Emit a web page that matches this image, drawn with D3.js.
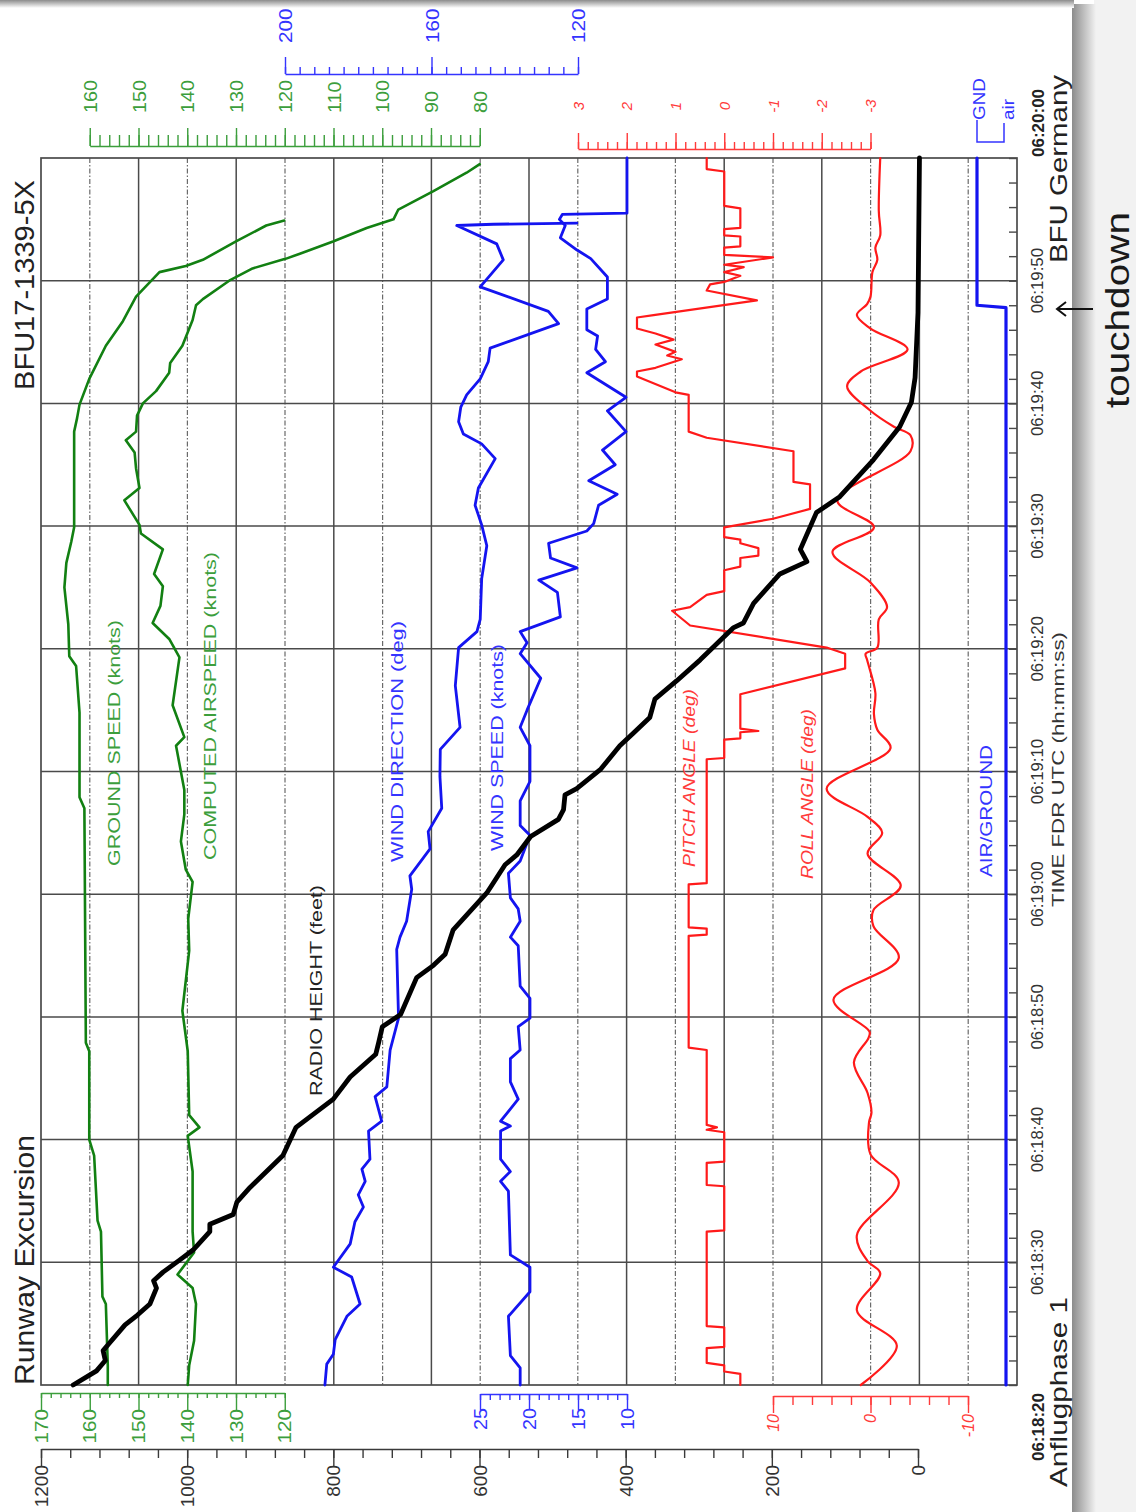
<!DOCTYPE html>
<html><head><meta charset="utf-8">
<script src="https://cdn.jsdelivr.net/npm/d3@7/dist/d3.min.js"></script>
<style>
html,body{margin:0;padding:0;background:#fff;}
svg{display:block;}
text{font-family:Arial,"Liberation Sans",Helvetica,sans-serif;}
</style></head><body>
<svg id="chart" width="1136" height="1512"></svg>
<script>
// ---------------- DATA (seconds after 06:18:20, value) ----------------
const timeTickSeconds = [0,10,20,30,40,50,60,70,80,90,100];
const timeTickLabels = ["06:18:20","06:18:30","06:18:40","06:18:50","06:19:00","06:19:10","06:19:20","06:19:30","06:19:40","06:19:50","06:20:00"];

const groundSpeed = [[0,156.3],[1.6,156.3],[6.6,156.7],[7.2,157.4],[12.5,157.7],[13.4,158.4],[18.7,159.1],[20,160.1],[27.2,160.1],[27.9,160.8],[47,161.1],[47.9,162.1],[54.8,162.1],[58.6,162.8],[59.4,164.2],[62,164.4],[65,165.2],[67,164.8],[68.7,163.8],[69.9,163.2],[77.7,163.2],[78.8,162.6],[79.9,162.1],[82,160.1],[84.7,156.7],[86.7,153.2],[88.7,150.5],[90.7,145.7],[91.2,140.3],[91.7,136.8],[93.2,130],[94.5,123.8],[94.9,120.1]];

const computedAirspeed = [[0,139.9],[1.6,139.6],[3.6,138.6],[6.6,138.2],[7.9,138.9],[9.0,142.0],[10.8,138.6],[12.5,138.9],[17.4,138.9],[20.3,139.9],[21.0,137.5],[22.0,139.6],[27.2,139.9],[30.5,141.0],[35.4,139.6],[38,139.8],[41.0,138.9],[42.0,140.3],[44.3,141.3],[46.5,140.6],[48.5,140.6],[52.1,142.3],[52.8,140.6],[55.4,143.0],[59.3,141.6],[60.8,143.7],[62.1,147.1],[63.5,145.5],[65.1,145.0],[66.1,146.8],[68.1,145.0],[69.4,149.5],[70.1,149.8],[72.1,152.9],[73.1,149.8],[74.7,150.5],[76.0,150.8],[77.0,152.6],[77.7,150.5],[79.0,150.3],[80.0,149.1],[81.0,146.4],[82.5,143.7],[83.3,143.5],[84.7,141.0],[86.8,138.9],[88.0,138.2],[88.5,136.8],[90.0,131.4],[91.0,126.6],[91.8,119.7],[92.2,116.9],[93.2,110.1],[94.3,103.2],[95.0,97.7],[95.8,96.7],[97.3,89.5],[98.8,82.7],[99.5,80.0]];

const radioHeight = [[0,1156],[1.15,1124],[2.0,1112],[2.8,1115],[3.3,1108],[4.9,1085],[5.7,1068],[6.6,1051],[7.9,1042],[8.5,1046],[9.2,1033],[10.2,1010],[11.0,992],[12.5,969],[13.1,969],[13.9,937],[14.9,932],[16.1,914],[18.7,869],[21.0,851],[23.3,800],[25.1,777],[26.95,742],[27.9,738],[29.2,733],[30.2,708],[33.2,686],[34.2,663],[35.1,647],[37.1,636],[40.1,590],[42.4,565],[43.2,549],[44.7,530],[46.1,492],[46.9,485],[48.1,483],[48.6,467],[50.2,434],[52.1,408],[53.1,390],[54.4,367],[55.9,360],[57.4,330],[59.1,298],[61.7,253],[62.1,239],[63.7,225],[66.1,189],[67.1,152],[68.1,161],[71.1,139],[72.4,107],[75.4,61],[78.1,25],[80.1,9],[82.1,4],[87.4,0],[100,-2]];

const windDirection = [[0,189.1],[1.7,188.6],[2.5,186.8],[3.7,186.3],[5.6,183.1],[6.6,179.5],[8.8,181.8],[9.6,186.8],[11.5,182.2],[13.3,180.9],[14.5,178.6],[15.5,180.0],[16.6,178.1],[17.6,179.0],[18.4,176.8],[20.7,177.2],[21.5,173.6],[23.5,175.4],[24.3,172.2],[27.3,171.3],[29.9,169.0],[35.5,169.5],[36.5,168.6],[37.8,166.8],[40.4,165.4],[41.5,165.9],[43.7,160.4],[45.1,160.9],[47.0,157.2],[49.6,157.7],[51.8,157.6],[53.6,152.2],[57,153.5],[60.1,152.6],[61.4,147.6],[62.4,146.7],[65.7,146.3],[68.4,144.9],[70.1,146.3],[71.7,148.1],[73.1,147.2],[75.5,142.6],[76.7,146.3],[77.5,151.3],[78.5,152.6],[79.7,152.0],[80.7,150.4],[82.0,146.7],[83.4,144.5],[84.5,144.0],[86.5,125.3],[87.5,128.1],[89.5,146.7],[91.7,140.4],[93.0,142.2],[94.5,153.1],[94.6,143.1],[94.7,120.3]];

const windSpeed = [[0,20.9],[1.4,20.9],[2.4,21.9],[5.6,22.1],[7.6,19.9],[9.6,19.9],[10.6,21.9],[15.8,22.1],[16.6,22.9],[17.4,21.9],[18.4,22.9],[20.7,22.9],[21.1,21.9],[21.5,22.9],[23.3,21.1],[24.7,21.9],[26.6,21.9],[27.3,20.9],[29.2,21.1],[29.9,19.9],[31.5,19.9],[32.5,20.9],[35.8,21.1],[36.5,21.9],[37.8,20.9],[38.8,21.1],[39.7,21.9],[41.7,22.1],[42.7,20.9],[44.8,19.9],[45.6,20.9],[47.6,20.9],[49.2,19.9],[50.2,19.9],[52.1,19.9],[53.6,20.9],[55,20.2],[57.6,18.8],[59.6,20.9],[60.5,20.2],[61.4,20.9],[62.6,16.8],[64.6,17.1],[65.6,19.0],[66.6,15.1],[67.4,17.8],[68.6,18.0],[69.6,14.1],[70.2,13.4],[71.7,12.9],[72.6,11.0],[73.7,13.9],[75.0,11.2],[76.2,12.5],[77.7,10.1],[79.4,12.0],[80.5,10.1],[82.5,14.1],[83.4,12.2],[84.4,13.2],[85.5,13.0],[86.0,14.1],[87.7,14.1],[88.5,12.0],[90.3,12.0],[91.8,13.7],[92.5,15.1],[93.5,16.8],[94.5,16.3],[95.0,16.9],[95.4,16.6],[95.5,10],[100,10]];

const pitchAngle = [[0,-0.33],[0.9,-0.33],[1.1,0],[1.6,0],[1.8,0.36],[3.0,0.36],[3.1,0],[4.7,0],[4.8,0.36],[12.5,0.36],[12.6,0],[16.2,0],[16.3,0.36],[18.1,0.36],[18.2,0],[20.6,0],[20.8,0.36],[21.0,0.15],[21.2,0.36],[27.3,0.36],[27.5,0.73],[36.6,0.73],[36.7,0.36],[37.2,0.36],[37.3,0.73],[40.8,0.73],[40.9,0.36],[51.0,0.36],[51.1,0],[52.6,0],[52.7,-0.33],[53.2,-0.33],[53.3,-0.7],[53.5,-0.33],[56.3,-0.33],[58.4,-2.48],[59.6,-2.48],[60.1,-2.1],[61.9,0.7],[63.1,1.07],[63.4,0.7],[64.4,0.36],[64.7,0],[66.4,0],[66.7,-0.33],[67.4,-0.33],[67.6,-0.7],[68.2,-0.7],[68.6,-0.33],[68.9,-0.33],[69.1,0],[69.9,0],[70.6,-1.0],[71.4,-1.76],[73.4,-1.76],[73.6,-1.42],[76.1,-1.42],[77.2,0.36],[77.7,0.73],[80.7,0.73],[80.9,1.0],[82.2,1.79],[82.6,1.79],[82.9,1.41],[83.6,0.87],[83.9,1.17],[84.2,1.0],[84.8,1.41],[85.2,1.04],[85.7,1.41],[86.1,1.79],[87.0,1.79],[87.2,1.45],[88.4,-0.67],[89.2,0.36],[89.7,0.29],[89.9,0],[90.4,-0.33],[90.7,0],[91.1,-0.4],[91.3,0],[91.9,-1.0],[92.1,0],[92.7,0],[92.8,-0.33],[93.6,-0.33],[93.7,0],[94.2,0],[94.3,-0.33],[95.9,-0.33],[96.1,0],[98.9,0],[99.1,0.36],[100,0.36]];

const rollAngle = [[0,1.0],[3.2,-2.7],[6.1,1.4],[9.1,-1.0],[10.1,0.3],[12.2,1.4],[16.5,-2.9],[18.8,0],[21.4,0.15],[22.2,-0.1],[23.8,0.3],[26.3,1.7],[28.3,0.2],[28.8,0.1],[31.4,3.8],[34.8,-2.9],[37.4,-0.3],[38.7,-0.3],[40.7,-3.1],[43.3,0.3],[45.0,-1.2],[46.3,0.3],[48.6,4.5],[51.9,-2.05],[53.4,-0.7],[54.7,-0.35],[56.4,-0.5],[59.1,0.35],[59.6,0.5],[60.1,-0.7],[62.4,-0.85],[63.4,-1.7],[65.4,0],[67.9,3.9],[69.9,-0.35],[72.1,3.4],[76.1,-4.1],[77.4,-4.1],[78.1,-2.4],[79.4,0],[81.4,2.4],[82.6,1.0],[84.4,-3.8],[86.1,0],[87.2,1.4],[88.1,0.35],[88.7,0],[90.7,-0.2],[91.7,-0.7],[92.7,-0.5],[93.7,-1.0],[95.7,-0.85],[100,-1.0]];

const airGround = [[0,0],[87.8,0],[88.0,1],[100,1]]; // 0 = air, 1 = GND

const gsTicks = [170,160,150,140,130,120];
const casTicks = [160,150,140,130,120,110,100,90,80];
const wdTicks = [200,160,120];
const wsTicks = [25,20,15,10];
const pitchTicks = [3,2,1,0,-1,-2,-3];
const rollTicks = [10,0,-10];
const rhTicks = [1200,1000,800,600,400,200,0];

// ---------------- SCALES ----------------
const svg = d3.select('#chart');
const tScale = d3.scaleLinear().domain([0,100]).range([1385,158]);
const speedScale = d3.scaleLinear().domain([170,80]).range([41,479.75]);
const wdScale = d3.scaleLinear().domain([200,120]).range([285,578]);
const wsScale = d3.scaleLinear().domain([25,10]).range([480,627]);
const pitchScale = d3.scaleLinear().domain([3,-3]).range([578,870.5]);
const rollScale = d3.scaleLinear().domain([10,-10]).range([773,968]);
const rhScale = d3.scaleLinear().domain([1200,0]).range([41,918]);
const agScale = d3.scaleLinear().domain([0,1]).range([1006,977]);
const gridScale = d3.scaleLinear().domain([0,20]).range([41,1017]);

const GREEN_LINE = '#128012', GREEN_AX = '#3c9e3c';
const BLUE_LINE = '#1414f0', BLUE_AX = '#3434ff';
const RED = '#ff1a1a', RED_AX = '#ff3a3a';
const GRID = '#4a4a4a';

// ---------------- BACKGROUND / PAGE SHADOW ----------------
const defs = svg.append('defs');
const gR = defs.append('linearGradient').attr('id','shR').attr('x1','0').attr('x2','1').attr('y1','0').attr('y2','0');
gR.append('stop').attr('offset','0').attr('stop-color','#8c8c8c');
gR.append('stop').attr('offset','1').attr('stop-color','#f2f2f2');
const gT = defs.append('linearGradient').attr('id','shT').attr('x1','0').attr('x2','0').attr('y1','0').attr('y2','1');
gT.append('stop').attr('offset','0').attr('stop-color','#8c8c8c');
gT.append('stop').attr('offset','1').attr('stop-color','#ffffff');
svg.append('rect').attr('x',0).attr('y',0).attr('width',1136).attr('height',1512).attr('fill','#ffffff');
svg.append('rect').attr('x',1094).attr('y',0).attr('width',42).attr('height',1512).attr('fill','#f2f2f2');
svg.append('rect').attr('x',1072).attr('y',4).attr('width',24).attr('height',1508).attr('fill','url(#shR)');
svg.append('rect').attr('x',0).attr('y',0).attr('width',1074).attr('height',8).attr('fill','url(#shT)');

// ---------------- GRID ----------------
const grid = svg.append('g');
grid.selectAll('line.v').data(d3.range(1,20)).join('line')
  .attr('x1',k=>gridScale(k)).attr('x2',k=>gridScale(k)).attr('y1',158).attr('y2',1385)
  .attr('stroke',k=>k%2?'#6a6a6a':GRID).attr('stroke-width',k=>k%2?1.2:1.5)
  .attr('stroke-dasharray',k=>k%2?'5,2,1.5,2':null);
grid.selectAll('line.h').data(d3.range(10,100,10)).join('line')
  .attr('x1',41).attr('x2',1017).attr('y1',t=>tScale(t)).attr('y2',t=>tScale(t))
  .attr('stroke',GRID).attr('stroke-width',1.5);
svg.append('rect').attr('x',41).attr('y',158).attr('width',976).attr('height',1227)
  .attr('fill','none').attr('stroke',GRID).attr('stroke-width',1.7);
// time ticks on right frame edge
const tAx = svg.append('g').attr('transform','translate(1017,0)').attr('color',GRID)
  .call(d3.axisLeft(tScale).tickValues(d3.range(0,101,2)).tickSize(8).tickSizeOuter(0).tickFormat(''));
tAx.select('.domain').remove();
tAx.selectAll('line').attr('stroke-width',1.4);

// ---------------- TEXT HELPER ----------------
function vtext(x, y, str, o = {}) {
  const t = svg.append('text')
    .attr('transform', `translate(${x},${y}) rotate(-90)` + (o.stretch ? ` scale(${o.stretch},1)` : ''))
    .attr('text-anchor', o.anchor || 'start')
    .attr('font-size', o.size || 16)
    .attr('fill', o.color || '#222')
    .text(str);
  if (o.weight) t.attr('font-weight', o.weight);
  if (o.italic) t.attr('font-style', 'italic');
  if (o.len) t.attr('textLength', o.len).attr('lengthAdjust', 'spacingAndGlyphs');
  if (o.family) t.attr('font-family', o.family);
  return t;
}

// ---------------- AXES ----------------
function hAxis(scale, domain, y, top, minorStep, majorVals, minorLen, majorLen, color) {
  const s = scale.copy().domain(domain).range(domain.map(d => scale(d)));
  const lo = Math.min(...domain), hi = Math.max(...domain);
  const minorVals = d3.range(lo, hi + minorStep / 2, minorStep).map(v => +v.toFixed(4));
  const mk = top ? d3.axisTop : d3.axisBottom;
  const g = svg.append('g').attr('transform', `translate(0,${y})`).attr('color', color);
  g.append('g').call(mk(s).tickValues(minorVals).tickSize(minorLen).tickSizeOuter(0).tickFormat(''));
  const gm = g.append('g').call(mk(s).tickValues(majorVals).tickSize(majorLen).tickFormat(''));
  gm.select('.domain').remove();
  g.selectAll('line,path').attr('stroke-width', 1.4);
  return s;
}
// top axes
hAxis(speedScale, [160,80], 146, true, 2, casTicks, 11, 18, GREEN_AX);
casTicks.forEach(v => vtext(speedScale(v) + 7, 113, String(v), {size:18, color:GREEN_AX, stretch:1.1}));
hAxis(wdScale, [200,120], 74, true, 4, wdTicks, 7, 17, BLUE_AX);
wdTicks.forEach(v => vtext(wdScale(v) + 7, 43, String(v), {size:18, color:BLUE_AX, stretch:1.15}));
hAxis(pitchScale, [3,-3], 149, true, 0.2, pitchTicks, 7, 16, RED_AX);
pitchTicks.forEach(v => vtext(pitchScale(v) + 5.5, 106, String(v), {size:15, color:RED_AX, italic:true, anchor:'middle'}));

// bottom axes
hAxis(speedScale, [170,120], 1393, false, 2, gsTicks, 5, 17, GREEN_AX);
gsTicks.forEach(v => vtext(speedScale(v) + 6.5, 1409, String(v), {size:18, color:GREEN_AX, anchor:'end', stretch:1.15}));
hAxis(wsScale, [25,10], 1394, false, 1, wsTicks, 6, 16, BLUE_AX);
wsTicks.forEach(v => vtext(wsScale(v) + 6.5, 1408, String(v), {size:18, color:BLUE_AX, anchor:'end', stretch:1.1}));
hAxis(rollScale, [10,-10], 1396, false, 2, rollTicks, 9, 17, RED_AX);
rollTicks.forEach(v => vtext(rollScale(v) + 5.5, 1414, String(v), {size:16, color:RED_AX, anchor:'end', italic:true}));
hAxis(rhScale, [1200,0], 1449, false, 40, rhTicks, 9, 18, '#3a3a3a');
rhTicks.forEach(v => vtext(rhScale(v) + 7, 1465, String(v), {size:19, color:'#333', anchor:'end'}));

// air / ground mini legend
svg.append('path').attr('d','M977,120V142H1004V123').attr('fill','none').attr('stroke',BLUE_AX).attr('stroke-width',1.5);
vtext(985, 120, 'GND', {size:16, color:BLUE_AX, len:42});
vtext(1014, 120, 'air', {size:16, color:BLUE_AX, len:21});

// ---------------- SERIES ----------------
function series(data, xs, color, width, curve) {
  svg.append('path').datum(data)
    .attr('fill','none').attr('stroke',color).attr('stroke-width',width)
    .attr('stroke-linejoin','round').attr('stroke-linecap','round')
    .attr('d', d3.line().x(d => xs(d[1])).y(d => tScale(d[0])).curve(curve || d3.curveLinear));
}
series(groundSpeed, speedScale, GREEN_LINE, 2.6);
series(computedAirspeed, speedScale, GREEN_LINE, 2.6);
series(windDirection, wdScale, BLUE_LINE, 2.8);
series(windSpeed, wsScale, BLUE_LINE, 2.8);
series(pitchAngle, pitchScale, RED, 2.2);
series(rollAngle, rollScale, RED, 2.2, d3.curveCatmullRom.alpha(0.5));
series(airGround, agScale, BLUE_LINE, 3.2);
series(radioHeight, rhScale, '#000', 4.8);

// ---------------- SERIES LABELS ----------------
vtext(120, 866, 'GROUND SPEED (knots)', {size:17, color:GREEN_AX, len:246});
vtext(216, 860, 'COMPUTED AIRSPEED (knots)', {size:17, color:GREEN_AX, len:308});
vtext(322, 1096, 'RADIO HEIGHT (feet)', {size:17, color:'#222', len:211});
vtext(403, 862, 'WIND DIRECTION  (deg)', {size:17, color:BLUE_AX, len:241});
vtext(503, 851, 'WIND SPEED (knots)', {size:17, color:BLUE_AX, len:207});
vtext(695, 867, 'PITCH ANGLE (deg)', {size:16, color:RED_AX, italic:true, len:178});
vtext(813, 879, 'ROLL ANGLE (deg)', {size:16, color:RED_AX, italic:true, len:170});
vtext(992, 877, 'AIR/GROUND', {size:17, color:BLUE_AX, len:132});

// ---------------- TITLES & TIME AXIS TEXT ----------------
vtext(34, 1385, 'Runway Excursion', {size:27, color:'#222', len:250});
vtext(34, 390, 'BFU17-1339-5X', {size:27, color:'#222', len:210});
timeTickSeconds.forEach((s, i) => {
  if (i === 0) vtext(1044, 1393, timeTickLabels[i], {size:17, weight:'bold', anchor:'end', color:'#222'});
  else if (i === timeTickSeconds.length - 1) vtext(1044, 157, timeTickLabels[i], {size:17, weight:'bold', color:'#222'});
  else vtext(1043, tScale(s), timeTickLabels[i], {size:16, anchor:'middle', color:'#333', stretch:1.05});
});
vtext(1064, 907, 'TIME FDR UTC (hh:mm:ss)', {size:16, color:'#333', len:275});
vtext(1067, 263, 'BFU Germany', {size:24, color:'#222', len:188});
vtext(1067, 1487, 'Anflugphase 1', {size:24, color:'#222', len:190});

// touchdown annotation
vtext(1129, 408, 'touchdown', {size:34, color:'#1a1a1a', len:196, family:'"Open Sans", Lato, Arial, sans-serif'});
svg.append('path').attr('d','M1093,309H1057M1066,302L1057,309L1066,316')
  .attr('fill','none').attr('stroke','#111').attr('stroke-width',2);
</script>
</body></html>
